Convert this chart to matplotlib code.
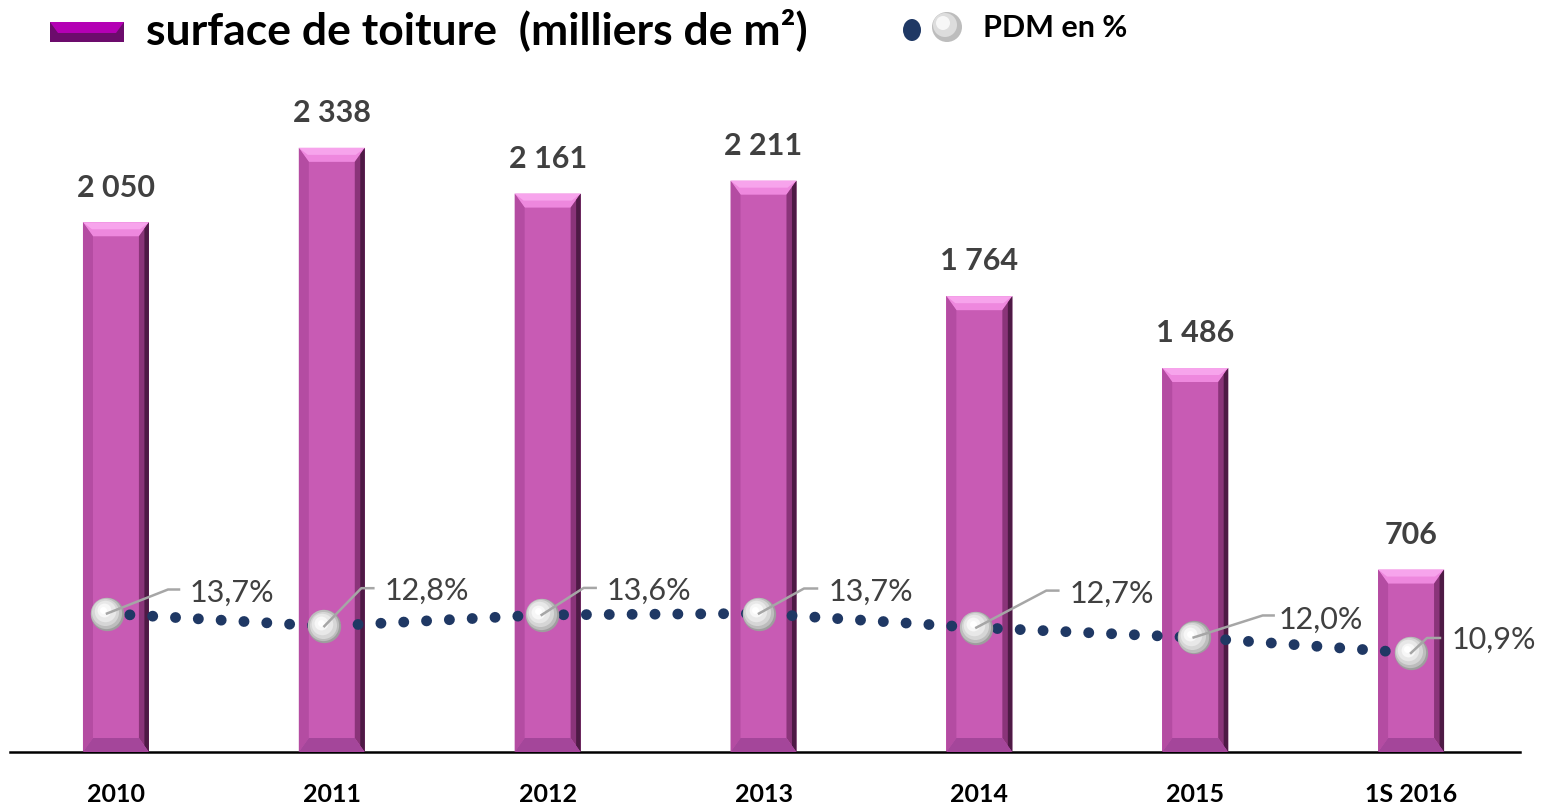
import matplotlib
matplotlib.use("Agg")
import matplotlib.pyplot as plt
from matplotlib.patches import Polygon, Rectangle, Ellipse
from matplotlib.lines import Line2D
from matplotlib.transforms import offset_copy
import numpy as np

plt.rcParams['font.family'] = ['Lato', 'DejaVu Sans']

# ---------------- data ----------------
categories = ["2010", "2011", "2012", "2013", "2014", "2015", "1S 2016"]
surface = [2050, 2338, 2161, 2211, 1764, 1486, 706]
surface_labels = ["2 050", "2 338", "2 161", "2 211", "1 764", "1 486", "706"]
pdm = [13.7, 12.8, 13.6, 13.7, 12.7, 12.0, 10.9]
pdm_labels = ["13,7%", "12,8%", "13,6%", "13,7%", "12,7%", "12,0%", "10,9%"]

# label leader offsets in pixels (elbow dx, dy, end dx, text dx, text dy)
leader_offsets = [(61, 24, 72, 83, 21), (37, 38, 49, 60, 35), (42, 27, 54, 65, 24),
                  (45, 25, 58, 70, 22), (70, 37, 82, 93, 34), (69, 22, 80, 85, 18),
                  (16, 15, 29, 41, 13)]

W, H = 1548, 807
fig = plt.figure(figsize=(W / 100, H / 100), dpi=100)

def px_rect(l, t, r, b):
    return [l / W, (H - b) / H, (r - l) / W, (b - t) / H]

rect = px_rect(10, 60, 1520, 752)
ax = fig.add_axes(rect)
ax2 = fig.add_axes(rect)
ax2.patch.set_visible(False)

x = np.arange(len(categories))
bar_w = 66 / 216.0
ax.set_xlim(-106 / 216.0, 6 + 109 / 216.0)
ax.set_ylim(0, 692 / 0.2584)

main_col = "#C85BB4"
bars = ax.bar(x, surface, width=bar_w, color=main_col, edgecolor="none", zorder=2)

# bevel decoration derived from each bar
bw = 10 / 216.0
bh = 14 / 0.2584
for i, b in enumerate(bars):
    x0 = b.get_x(); x1 = x0 + b.get_width(); top = b.get_height()
    polys = [
        ([(x0, top), (x1, top), (x1 - bw, top - bh), (x0 + bw, top - bh)], "#EE88DE"),
        ([(x0, top), (x0 + bw, top - bh), (x0 + bw, bh), (x0, 0)], "#B44CA2"),
        ([(x1, top), (x1 - bw, top - bh), (x1 - bw, bh), (x1, 0)], "#8A3479"),
        ([(x1, top), (x1 - bw * 0.45, top - bh * 0.45), (x1 - bw * 0.45, bh * 0.45), (x1, 0)], "#4E1A45"),
        ([(x0, 0), (x1, 0), (x1 - bw, bh), (x0 + bw, bh)], "#A4469A"),
    ]
    for pts, c in polys:
        ax.add_patch(Polygon(pts, closed=True, facecolor=c, edgecolor="none", zorder=3))
    ax.add_patch(Polygon([(x0, top), (x1, top), (x1 - bw * 0.9, top - bh * 0.5), (x0 + bw * 0.9, top - bh * 0.5)],
                         closed=True, facecolor="#F7A4EC", edgecolor="none", zorder=3))
    ax.annotate(surface_labels[i], (b.get_x() + b.get_width() / 2, top),
                xytext=(0, 25), textcoords="offset points", ha="center", va="center",
                fontsize=22, fontweight="bold", color="#404040", zorder=5)

for s in ["top", "right", "left"]:
    ax.spines[s].set_visible(False)
ax.spines["bottom"].set_linewidth(1.8)
ax.spines["bottom"].set_color("black")
ax.set_yticks([])
ax.set_xticks(x)
ax.set_xticklabels(categories, fontsize=18, fontweight="bold", color="black")
ax.tick_params(axis="x", length=0, pad=22)

# ---------------- PDM line ----------------
ax2.set_xlim(-97 / 217.33, (1520 - 107) / 217.33)
ax2.set_ylim(13.7 - 138.5 / 14.1, 13.7 + 553.5 / 14.1)
ax2.axis("off")
ax2.plot(x, pdm, color="#1F3864", lw=7.8, linestyle=(0, (0.01, 2.1)),
         dash_capstyle="round", zorder=4)

fig.canvas.draw()
inv = fig.transFigure.inverted()
for i, (xv, yv) in enumerate(zip(x, pdm)):
    mx, my = ax2.transData.transform((xv, yv))
    ex, ey, endx, tx, ty = leader_offsets[i]
    pts = inv.transform([(mx, my), (mx + ex, my + ey), (mx + endx, my + ey)])
    fig.add_artist(Line2D(pts[:, 0], pts[:, 1], color="#A6A6A6", lw=1.8, zorder=6))
    tp = inv.transform((mx + tx, my + ty))
    fig.text(tp[0], tp[1], pdm_labels[i], ha="left", va="center", fontsize=22,
             color="#404040", zorder=8)

# silver spheres, layered shading
layers = [(24, "#9E9E9E", 0, 0), (22.5, "#BDBDBD", -0.6, 0.6), (19.5, "#D6D6D6", -1.2, 1.2),
          (15.5, "#E8E8E8", -1.8, 1.8), (10, "#F7F7F7", -2.3, 2.3), (5, "#FFFFFF", -2.6, 2.6)]
for ms, col, dx, dy in layers:
    tr = offset_copy(ax2.transData, fig=fig, x=dx, y=dy, units="points")
    ax2.plot(x, pdm, linestyle="none", marker="o", markersize=ms, markerfacecolor=col,
             markeredgecolor="none", transform=tr, zorder=7)
ax2.set_zorder(5)

# ---------------- legend ----------------
def fx(p): return p / W
def fy(p): return (H - p) / H

fig.add_artist(Rectangle((fx(50), fy(42)), fx(124) - fx(50), fy(22) - fy(42),
                         transform=fig.transFigure, facecolor="#6C0C6C", edgecolor="none"))
fig.add_artist(Polygon([(fx(50), fy(22)), (fx(124), fy(22)), (fx(116), fy(33)), (fx(58), fy(33))],
                       closed=True, transform=fig.transFigure, facecolor="#B400B4", edgecolor="none"))
fig.text(fx(146), fy(30), "surface de toiture  (milliers de m²)", ha="left", va="center",
         fontsize=32, fontweight="bold", color="black")
fig.add_artist(Ellipse((fx(912), fy(30)), 18 / W, 22 / H, transform=fig.transFigure,
                       facecolor="#1F3864", edgecolor="none"))
fig.add_artist(Ellipse((fx(947), fy(27)), 30 / W, 30 / H, transform=fig.transFigure,
                       facecolor="#BDBDBD", edgecolor="none"))
fig.add_artist(Ellipse((fx(945), fy(25)), 24 / W, 24 / H, transform=fig.transFigure,
                       facecolor="#DDDDDD", edgecolor="none"))
fig.add_artist(Ellipse((fx(943), fy(23)), 14 / W, 14 / H, transform=fig.transFigure,
                       facecolor="#F7F7F7", edgecolor="none"))
fig.text(fx(983), fy(28), "PDM en %", ha="left", va="center",
         fontsize=22, fontweight="bold", color="black")

fig.savefig("out.png", dpi=100)
